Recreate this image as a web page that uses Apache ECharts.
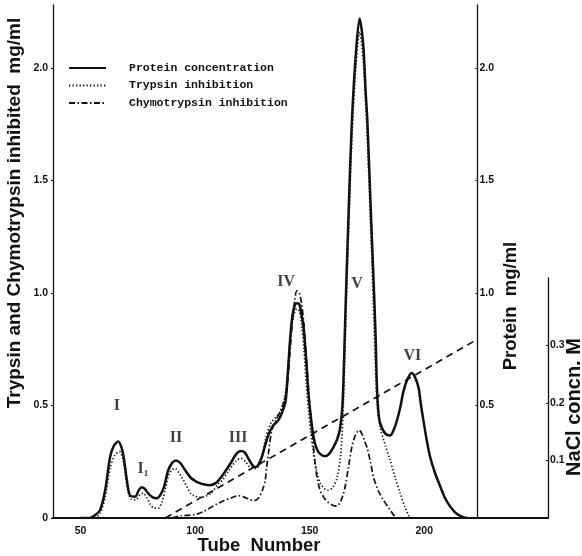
<!DOCTYPE html>
<html>
<head>
<meta charset="utf-8">
<script src="https://cdn.jsdelivr.net/npm/echarts@6/dist/echarts.min.js"></script>
<style>
  html, body { margin: 0; background: #fff; }
  #main { width: 582px; height: 556px; }
</style>
</head>
<body>
<div id="main"></div>
<script>
  // [tube number, mg/ml]
  var proteinPoints = [
    [50, 0], [54, 0], [56, 0.01], [58.5, 0.035], [60.7, 0.12], [62.9, 0.27], [64.5, 0.32], [66.5, 0.34],
    [68, 0.31], [69, 0.26], [70.2, 0.17], [71.6, 0.10], [73.8, 0.095], [75.5, 0.125], [76.7, 0.137],
    [78, 0.13], [79.5, 0.11], [81.5, 0.092], [83.3, 0.088], [85, 0.105], [86.5, 0.14], [88.2, 0.21],
    [90, 0.245], [91.7, 0.256], [93.5, 0.245], [94.8, 0.226], [96.5, 0.2], [98, 0.18], [100, 0.165],
    [102, 0.155], [104, 0.149], [106.5, 0.146], [109, 0.155], [111, 0.177], [113, 0.205], [115.3, 0.24],
    [118, 0.285], [120, 0.298], [121.8, 0.29], [123.2, 0.265], [125, 0.235], [126.2, 0.226], [127.5, 0.235],
    [129.1, 0.27], [130.5, 0.32], [131.9, 0.367], [134, 0.41], [136.3, 0.434], [138, 0.47], [139.5, 0.52],
    [140.5, 0.65], [141.5, 0.8], [142.5, 0.9], [143.5, 0.945], [144.4, 0.955], [145.5, 0.95], [146.5, 0.9],
    [147.3, 0.85], [148.5, 0.7], [149.5, 0.55], [150.5, 0.45], [151.7, 0.36], [153, 0.31], [154.5, 0.285],
    [156.8, 0.275], [158.5, 0.285], [160.4, 0.315], [162, 0.35], [163.3, 0.4], [164.3, 0.5], [165, 0.7],
    [165.7, 0.95], [167, 1.36], [168.4, 1.76], [170.2, 2.07], [171.8, 2.22], [173.4, 2.1], [174.4, 1.9],
    [175.2, 1.76], [176.7, 1.36], [178.1, 1.0], [178.8, 0.8], [179.3, 0.6], [180, 0.47], [180.8, 0.42],
    [183, 0.375], [185.2, 0.367], [186.6, 0.39], [188, 0.43], [189.5, 0.49], [191, 0.566], [192.8, 0.62],
    [194.6, 0.645], [196, 0.625], [197.5, 0.58], [198.6, 0.5], [199.7, 0.43], [201, 0.35], [202.6, 0.27],
    [204.7, 0.2], [207, 0.14], [209, 0.09], [211.4, 0.05], [214, 0.02], [217, 0.004], [219, 0]
  ];
  var trypsinPoints = [
    [50, 0], [56, 0], [58.5, 0.02], [60.7, 0.09], [62.9, 0.22], [65, 0.28], [67, 0.295], [68.5, 0.26],
    [69.5, 0.2], [70.5, 0.13], [72, 0.085], [74, 0.08], [76, 0.105], [77.3, 0.11], [79, 0.09], [80.5, 0.06],
    [82, 0.045], [84, 0.044], [85.5, 0.07], [87, 0.13], [88.5, 0.19], [90, 0.215], [91.3, 0.22], [93, 0.2],
    [94.8, 0.17], [96.4, 0.14], [98, 0.11], [99.3, 0.1], [102, 0.092], [104, 0.095], [107, 0.11],
    [110, 0.15], [112, 0.17], [115, 0.215], [118, 0.255], [120, 0.265], [122, 0.25], [124, 0.225],
    [126, 0.22], [127.5, 0.225], [129, 0.27], [131, 0.36], [133, 0.42], [135, 0.445], [137, 0.47],
    [139, 0.53], [140.5, 0.66], [141.8, 0.82], [143, 0.9], [144.4, 0.93], [145.5, 0.92], [146.5, 0.86],
    [147.5, 0.75], [148.5, 0.6], [149.5, 0.48], [150.5, 0.38], [151.7, 0.29], [153, 0.21], [154.6, 0.155],
    [156.5, 0.13], [158, 0.124], [160, 0.135], [162, 0.18], [163.5, 0.28], [164.5, 0.45], [165.3, 0.7],
    [166, 0.95], [167.2, 1.34], [168.6, 1.72], [170.3, 2.02], [171.8, 2.16], [173.3, 2.04], [175, 1.72],
    [176.5, 1.33], [177.8, 0.95], [178.6, 0.7], [179.5, 0.5], [180.8, 0.4], [182.8, 0.33], [185, 0.26],
    [187.3, 0.18], [189.5, 0.11], [191.5, 0.05], [193, 0.015], [194, 0]
  ];
  var chymoPoints = [
    [90, 0], [94, 0.01], [97, 0.012], [100, 0.015], [103.5, 0.028], [106.5, 0.045], [109.5, 0.062],
    [112.5, 0.077], [115.3, 0.088], [119, 0.099], [122.6, 0.088], [125.5, 0.077], [127, 0.082],
    [128.4, 0.1], [129.6, 0.13], [130.6, 0.168], [131.3, 0.23], [132, 0.287], [133.5, 0.39], [135.5, 0.44],
    [137.9, 0.49], [140, 0.57], [141.3, 0.72], [142.5, 0.88], [143.5, 0.97], [144.4, 1.01], [145.5, 1.0],
    [146.5, 0.95], [147.5, 0.86], [148.5, 0.72], [149.5, 0.57], [150.5, 0.45], [151.3, 0.36], [152.2, 0.26],
    [153.2, 0.18], [154.5, 0.125], [156, 0.094], [158, 0.07], [160, 0.057], [161.9, 0.053], [163.5, 0.075],
    [164.5, 0.1], [165.5, 0.14], [167, 0.23], [168.4, 0.315], [170, 0.37], [171.6, 0.39], [173, 0.37],
    [174, 0.34], [175, 0.315], [176.5, 0.25], [177.9, 0.18], [180, 0.12], [182.2, 0.08], [184.5, 0.045],
    [186.5, 0.015], [188, 0]
  ];
  // linear NaCl gradient, M
  var naclPoints = [[87, 0], [223, 0.31]];

  var peakNames = ['I', 'I\u2081', 'II', 'III', 'IV', 'V', 'VI'];
  var peakTubes = [65.9, 77.3, 91.7, 118.8, 139.7, 170.7, 194.8];
  var peakLevels = [0.5, 0.22, 0.355, 0.355, 1.05, 1.04, 0.72];

  var tubeTicks = [50, 100, 150, 200];
  var inhibTicks = [0, 0.5, 1.0, 1.5, 2.0];
  var proteinTicks = [0.5, 1.0, 1.5, 2.0];
  var naclTicks = [0.1, 0.2, 0.3];

  var black = '#111';
  var clear = 'rgba(0,0,0,0)';
  var tickFont = { color: black, fontSize: 10.5, fontWeight: 'bold', fontFamily: 'Liberation Sans' };
  function nameFont(size) { return 'bold ' + size + 'px "Liberation Sans"'; }

  var chart = echarts.init(document.getElementById('main'));
  chart.setOption({
    backgroundColor: '#fff',
    animation: false,
    grid: [
      { left: 53, right: 34, top: 5, bottom: 38 },
      { left: 53, right: 34, top: 278, bottom: 38 }
    ],
    legend: {
      orient: 'vertical',
      left: 68,
      top: 62,
      padding: 0,
      itemWidth: 37,
      itemHeight: 14,
      itemGap: 5.5,
      itemStyle: { color: clear, borderWidth: 0 },
      data: ['Protein concentration', 'Trypsin inhibition', 'Chymotrypsin inhibition'],
      textStyle: { color: black, fontSize: 11.5, fontWeight: 'bold', fontFamily: 'Liberation Mono',
        padding: [2, 0, 0, 18] }
    },
    xAxis: [
      {
        type: 'value', gridIndex: 0, min: 38, max: 254,
        axisLine: { onZero: false, lineStyle: { color: black, width: 1.8 } },
        axisTick: { show: false },
        splitLine: { show: false },
        axisLabel: Object.assign({ customValues: tubeTicks, margin: 8 }, tickFont)
      },
      { type: 'value', gridIndex: 1, min: 38, max: 254, show: false }
    ],
    yAxis: [
      {
        type: 'value', gridIndex: 0, position: 'left', min: 0, max: 2.28,
        axisLine: { show: true, onZero: false, lineStyle: { color: black, width: 1.3 } },
        axisTick: { show: true, length: 2, customValues: inhibTicks, lineStyle: { color: black } },
        splitLine: { show: false },
        axisLabel: Object.assign({ customValues: inhibTicks, margin: 5,
          formatter: function (v) { return v === 0 ? '0' : v.toFixed(1); } }, tickFont)
      },
      {
        type: 'value', gridIndex: 0, position: 'right', offset: -70.5, min: 0, max: 2.28,
        axisLine: { show: true, onZero: false, lineStyle: { color: black, width: 1.3 } },
        axisTick: { show: true, inside: true, length: 2, customValues: proteinTicks, lineStyle: { color: black } },
        splitLine: { show: false },
        axisLabel: Object.assign({ customValues: proteinTicks, margin: 2,
          formatter: function (v) { return v.toFixed(1); } }, tickFont)
      },
      {
        type: 'value', gridIndex: 1, position: 'right', min: 0, max: 0.417,
        axisLine: { show: true, onZero: false, lineStyle: { color: black, width: 1.3 } },
        axisTick: { show: true, inside: true, length: 2, customValues: naclTicks, lineStyle: { color: black } },
        splitLine: { show: false },
        axisLabel: Object.assign({ customValues: naclTicks, margin: 2,
          formatter: function (v) { return v.toFixed(1); } }, tickFont)
      }
    ],
    series: [
      {
        name: 'Protein concentration', type: 'line', xAxisIndex: 0, yAxisIndex: 1,
        data: proteinPoints, symbol: 'none', smooth: 0.3, z: 5,
        lineStyle: { color: black, width: 2.5 }, itemStyle: { color: clear }
      },
      {
        name: 'Trypsin inhibition', type: 'line', xAxisIndex: 0, yAxisIndex: 0,
        data: trypsinPoints, symbol: 'none', smooth: 0.3,
        lineStyle: { color: black, width: 1.7, type: [1.3, 2.2] }, itemStyle: { color: clear }
      },
      {
        name: 'Chymotrypsin inhibition', type: 'line', xAxisIndex: 0, yAxisIndex: 0,
        data: chymoPoints, symbol: 'none', smooth: 0.3,
        lineStyle: { color: black, width: 1.7, type: [6, 2.5, 1.5, 2.5] }, itemStyle: { color: clear }
      },
      {
        name: 'NaCl', type: 'line', xAxisIndex: 1, yAxisIndex: 2,
        data: naclPoints, symbol: 'none',
        lineStyle: { color: black, width: 1.7, type: [7, 5] }
      },
      {
        name: 'peaks', type: 'scatter', xAxisIndex: 0, yAxisIndex: 0, silent: true,
        symbolSize: 0,
        data: peakNames.map(function (n, i) { return { name: n, value: [peakTubes[i], peakLevels[i]] }; }),
        label: { show: true, position: 'inside', formatter: '{b}', color: black,
          fontFamily: 'Liberation Serif', fontWeight: 'bold', fontSize: 16 }
      }
    ],
    graphic: [
      { type: 'text', x: 15, y: 213, rotation: Math.PI / 2,
        style: { text: 'Trypsin and Chymotrypsin inhibited  mg/ml', font: nameFont(19), fill: black, textAlign: 'center', textVerticalAlign: 'middle' } },
      { type: 'text', x: 511, y: 306, rotation: Math.PI / 2,
        style: { text: 'Protein  mg/ml', font: nameFont(18.5), fill: black, textAlign: 'center', textVerticalAlign: 'middle' } },
      { type: 'text', x: 574, y: 407, rotation: Math.PI / 2,
        style: { text: 'NaCl concn. M', font: nameFont(20), fill: black, textAlign: 'center', textVerticalAlign: 'middle' } },
      { type: 'text', x: 259, y: 546,
        style: { text: 'Tube  Number', font: nameFont(18.5), fill: black, textAlign: 'center', textVerticalAlign: 'middle' } }
    ]
  });
</script>
</body>
</html>
